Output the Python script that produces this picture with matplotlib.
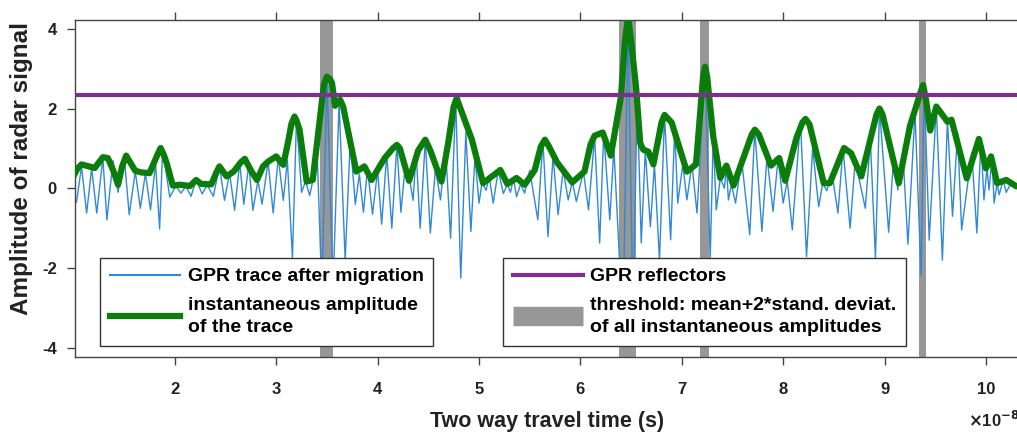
import matplotlib
matplotlib.use("Agg")
import matplotlib.pyplot as plt
from matplotlib.lines import Line2D

plt.rcParams['font.family'] = ['Liberation Sans', 'DejaVu Sans']
plt.rcParams['font.weight'] = 'bold'
plt.rcParams['axes.unicode_minus'] = False

# two way travel time in units of 1e-8 s
# GPR trace after migration (turning points of the wiggle)
trace_t = [1.015, 1.03, 1.08, 1.13, 1.18, 1.23, 1.29, 1.33, 1.39, 1.44, 1.50, 1.55,
           1.61, 1.66, 1.71, 1.76, 1.81, 1.85, 1.88, 1.95, 2.01, 2.06, 2.11, 2.16,
           2.21, 2.27, 2.32, 2.38, 2.44, 2.49, 2.54, 2.59, 2.64, 2.68, 2.73, 2.77,
           2.82, 2.86, 2.92, 2.97, 3.02, 3.07, 3.11, 3.16, 3.20, 3.25, 3.29, 3.33,
           3.37, 3.40, 3.45, 3.50, 3.56, 3.62, 3.68, 3.73, 3.78, 3.82, 3.86, 3.90,
           3.95, 4.00, 4.04, 4.09, 4.14, 4.19, 4.23, 4.27, 4.31, 4.35, 4.38, 4.42,
           4.47, 4.52, 4.57, 4.62, 4.67, 4.72, 4.77, 4.82, 4.87, 4.92, 4.96, 5.00,
           5.03, 5.07, 5.10, 5.14, 5.19, 5.24, 5.28, 5.31, 5.34, 5.37, 5.41, 5.45,
           5.50, 5.58, 5.63, 5.68, 5.73, 5.78, 5.83, 5.88, 5.92, 5.96, 6.03, 6.08,
           6.14, 6.19, 6.23, 6.29, 6.33, 6.42, 6.47, 6.52, 6.56, 6.60, 6.64, 6.69,
           6.73, 6.78, 6.83, 6.89, 6.93, 6.96, 7.01, 7.05, 7.10, 7.15, 7.23, 7.28,
           7.31, 7.34, 7.38, 7.42, 7.44, 7.46, 7.49, 7.53, 7.59, 7.67, 7.72, 7.79,
           7.84, 7.90, 7.95, 8.00, 8.04, 8.09, 8.17, 8.23, 8.29, 8.35, 8.39, 8.43,
           8.48, 8.54, 8.59, 8.66, 8.71, 8.81, 8.86, 8.91, 8.95, 9.04, 9.09, 9.13,
           9.18, 9.23, 9.30, 9.36, 9.39, 9.44, 9.51, 9.57, 9.62, 9.67, 9.72, 9.76,
           9.86, 9.91, 9.95, 9.98, 10.01, 10.03, 10.06, 10.08, 10.11, 10.13, 10.17,
           10.20, 10.25, 10.30]
trace_amp = [-0.25, -0.35, 0.55, -0.62, 0.50, -0.62, 0.76, -0.79, 0.70, -0.10, 0.82, -0.66,
             0.42, -0.50, 0.38, -0.54, 0.62, -1.02, 1.00, -0.22, 0.06, -0.12, 0.05, -0.20,
             0.21, -0.14, 0.08, -0.20, 0.55, -0.30, 0.38, -0.55, 0.65, -0.40, 0.60, -0.55,
             0.20, -0.40, 0.67, -0.62, 0.78, -0.30, 0.70, -1.75, 1.75, -0.10, 0.18, -0.18,
             0.30, 1.20, -2.60, 2.80, -2.50, 2.15, -1.80, 1.20, -0.40, 0.35, -0.60, 0.50,
             -0.65, 0.45, -0.90, 0.85, -1.00, 1.09, -0.60, 0.50, 0.30, -0.30, 0.90, -1.00,
             1.20, -1.12, 0.50, -0.29, 1.00, -1.25, 2.25, -2.25, 1.40, -1.08, 0.80, -0.37,
             0.15, -0.05, 0.30, -0.37, 0.45, -0.13, 0.10, -0.10, 0.25, -0.21, 0.10, -0.12,
             0.45, -0.79, 1.20, -1.21, 0.80, -0.66, 0.45, -0.29, 0.17, -0.33, 0.42, -0.54,
             1.30, -1.37, 1.40, -0.79, 1.00, -3.50, 4.20, -3.20, 2.40, -1.37, 0.95, -0.96,
             0.60, -1.80, 1.84, -1.29, 1.50, -0.37, 0.60, -0.29, 0.60, -0.62, 3.05, -1.80,
             1.30, -0.54, 0.26, 0.00, 0.55, -0.29, 0.10, -0.37, 0.71, -1.16, 1.47, -1.08,
             0.80, -0.58, 0.76, -0.37, 0.20, -1.04, 1.70, -1.71, 1.00, -0.46, 0.13, -0.06,
             0.40, -0.62, 1.00, -1.00, 0.70, -0.50, 1.20, -1.75, 2.00, -1.10, 0.80, -0.04,
             0.90, -1.40, 1.90, -2.20, 2.60, -1.30, 2.05, -1.80, 1.70, -0.70, 1.40, -1.04,
             0.90, -1.12, 1.20, -0.29, 0.50, -0.04, 0.76, -0.37, 0.13, -0.16, 0.20,
             -0.10, 0.15, 0.05]

# instantaneous amplitude (envelope) of the trace
env_t = [1.00, 1.04, 1.08, 1.15, 1.21, 1.29, 1.34, 1.40, 1.44, 1.48, 1.52, 1.56,
         1.61, 1.67, 1.75, 1.83, 1.86, 1.89, 1.92, 1.98, 2.05, 2.15, 2.21, 2.26,
         2.36, 2.41, 2.44, 2.51, 2.58, 2.65, 2.69, 2.75, 2.81, 2.87, 2.92, 3.00,
         3.07, 3.12, 3.15, 3.18, 3.20, 3.23, 3.30, 3.36, 3.41, 3.47, 3.50, 3.53,
         3.55, 3.58, 3.63, 3.66, 3.79, 3.87, 3.94, 4.02, 4.07, 4.15, 4.19, 4.22,
         4.31, 4.40, 4.47, 4.52, 4.63, 4.70, 4.75, 4.78, 4.81, 4.93, 5.04, 5.21,
         5.28, 5.37, 5.45, 5.55, 5.61, 5.65, 5.69, 5.77, 5.92, 6.04, 6.10, 6.14,
         6.22, 6.30, 6.40, 6.44, 6.47, 6.50, 6.55, 6.59, 6.62, 6.67, 6.72, 6.80,
         6.83, 6.90, 7.05, 7.14, 7.21, 7.23, 7.25, 7.31, 7.38, 7.44, 7.51, 7.60,
         7.69, 7.72, 7.76, 7.88, 7.96, 8.02, 8.13, 8.19, 8.22, 8.26, 8.40, 8.46,
         8.60, 8.67, 8.77, 8.92, 8.95, 8.98, 9.14, 9.25, 9.36, 9.38, 9.41, 9.45,
         9.51, 9.62, 9.66, 9.81, 9.93, 10.00, 10.05, 10.11, 10.20, 10.30]
env_amp = [0.30, 0.50, 0.60, 0.55, 0.51, 0.78, 0.76, 0.40, 0.09, 0.55, 0.82, 0.65,
           0.44, 0.40, 0.38, 0.85, 1.01, 0.85, 0.63, 0.07, 0.09, 0.06, 0.21, 0.11,
           0.10, 0.40, 0.55, 0.30, 0.42, 0.65, 0.74, 0.45, 0.21, 0.55, 0.67, 0.80,
           0.59, 1.20, 1.62, 1.80, 1.70, 1.47, 0.17, 0.21, 1.30, 2.60, 2.80, 2.74,
           2.64, 2.07, 2.22, 2.05, 0.42, 0.55, 0.21, 0.55, 0.76, 1.00, 1.09, 1.00,
           0.19, 0.95, 1.22, 0.95, 0.17, 1.20, 2.05, 2.26, 2.05, 1.22, 0.13, 0.46,
           0.11, 0.26, 0.09, 0.46, 1.05, 1.22, 1.05, 0.65, 0.15, 0.42, 1.10, 1.32,
           1.40, 0.82, 2.30, 3.70, 4.30, 3.70, 2.50, 1.13, 0.97, 0.92, 0.60, 1.65,
           1.84, 1.65, 0.42, 0.60, 2.80, 3.05, 2.80, 1.30, 0.26, 0.57, 0.07, 0.71,
           1.35, 1.47, 1.35, 0.57, 0.76, 0.19, 1.26, 1.65, 1.74, 1.60, 0.13, 0.13,
           1.01, 0.88, 0.30, 1.85, 2.00, 1.85, 0.13, 1.56, 2.45, 2.59, 2.20, 1.45,
           2.05, 1.67, 1.72, 0.25, 1.24, 0.50, 0.80, 0.13, 0.21, 0.05]

# reflector level and the time windows where the envelope exceeds it
reflector_level = 2.34
band_start = [3.43, 6.38, 7.18, 9.34]
band_end = [3.56, 6.55, 7.27, 9.41]

blue = '#2f88d8'
green = '#0b7d0b'
purple = '#7e2f8e'
grey = '#979797'

fig = plt.figure(figsize=(10.17, 4.32), dpi=100)
ax = fig.add_axes([0.0737, 0.1725, 0.9287, 0.7812])

for a, b in zip(band_start, band_end):
    ax.axvspan(a, b, color=grey, lw=0, zorder=1)
ax.plot(trace_t, trace_amp, color=blue, lw=1.0, solid_joinstyle='round', zorder=2)
ax.plot(env_t, env_amp, color=green, lw=4.5, solid_joinstyle='round',
        solid_capstyle='round', zorder=3)
ax.axhline(reflector_level, color=purple, lw=3, zorder=4)

ax.set_xlim(1.015, 10.33)
ax.set_ylim(-4.24, 4.22)
ax.set_xticks(range(2, 11))
ax.set_yticks([-4, -2, 0, 2, 4])
ax.tick_params(axis='both', direction='out', length=6, width=1, color='#444444',
               labelsize=12, top=True, right=True)
ax.tick_params(axis='x', pad=12)
ax.tick_params(axis='y', pad=7)
for lab in ax.get_xticklabels() + ax.get_yticklabels():
    lab.set_fontweight('bold')
    lab.set_color('#222222')
for sp in ax.spines.values():
    sp.set_color('#444444')
    sp.set_linewidth(1)

ax.set_xlabel('Two way travel time (s)', fontsize=15.5, fontweight='bold',
              color='#222222', labelpad=10)
ax.set_ylabel('Amplitude of radar signal', fontsize=17.5, fontweight='bold',
              color='#222222')
ax.yaxis.set_label_coords(-0.044, 0.56)
fig.text(0.952, 0.004, r'$\times$10$^{\mathbf{-8}}$', fontsize=12, fontweight='bold',
         color='#222222', ha='left', va='bottom')

leg_kw = dict(loc='upper left', bbox_transform=fig.transFigure, borderaxespad=0,
              fancybox=False, framealpha=1, edgecolor='#333333',
              prop={'family': 'Liberation Sans', 'weight': 'bold', 'size': 14},
              handlelength=3.6, handletextpad=0.4, labelspacing=0.6, borderpad=0.5)

h1 = [Line2D([], [], color=blue, lw=1.5),
      Line2D([], [], color=green, lw=4.5)]
leg1 = ax.legend(h1, ['GPR trace after migration',
                      'instantaneous amplitude\nof the trace'],
                 bbox_to_anchor=(100 / 1017, 1 - 258 / 432), **leg_kw)
leg1.get_frame().set_linewidth(1)
leg1.set_zorder(10)
for t in leg1.get_texts():
    t.set_linespacing(1.4)
ax.add_artist(leg1)

h2 = [Line2D([], [], color=purple, lw=3),
      Line2D([], [], color=grey, lw=14, solid_capstyle='butt')]
leg2 = ax.legend(h2, ['GPR reflectors',
                      'threshold: mean+2*stand. deviat.\nof all instantaneous amplitudes'],
                 bbox_to_anchor=(503 / 1017, 1 - 258 / 432), **leg_kw)
leg2.get_frame().set_linewidth(1)
leg2.set_zorder(10)
for t in leg2.get_texts():
    t.set_linespacing(1.4)

fig.savefig('out.png', dpi=100)
